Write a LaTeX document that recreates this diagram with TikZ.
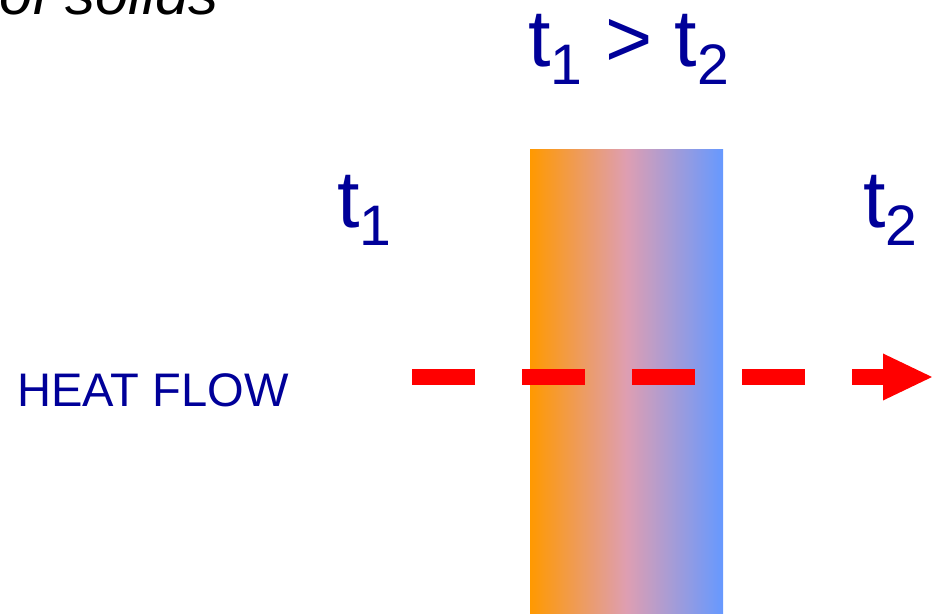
\documentclass[tikz,border=0pt]{standalone}
\usepackage{fontspec}
\setmainfont{Liberation Sans}
\usetikzlibrary{arrows.meta}
\definecolor{labelblue}{RGB}{0,0,153}
\definecolor{hotside}{RGB}{255,153,0}
\definecolor{midtone}{RGB}{222,158,178}
\definecolor{coldside}{RGB}{102,153,255}
\definecolor{flowred}{RGB}{255,0,0}
\newcommand{\tsub}[1]{t\raisebox{-10.2pt}{\fontsize{32.5}{33}\selectfont #1}}
\tikzset{
  templabel/.style={font=\fontsize{46}{46}\selectfont, text=labelblue, inner sep=0pt, anchor=base west},
  flowlabel/.style={font=\fontsize{26.8}{28}\selectfont, text=labelblue, inner sep=0pt, anchor=base west},
  titletail/.style={font=\fontsize{34}{35}\selectfont\itshape, inner sep=0pt, anchor=base east},
  slab/.style={left color=hotside, right color=coldside, middle color=midtone},
  flowarrow/.style={draw=flowred, line width=0.32cm, dash pattern=on 1.26cm off 0.94cm,
    -{Triangle[length=0.98cm, width=0.94cm, line width=0pt]}},
}
\begin{document}
\begin{tikzpicture}
\useasboundingbox (0,0) rectangle (18.640,12.260);
\node[titletail] (tail) at (4.380,11.960) {of solids};
\shade[slab] (10.600,0) rectangle (14.460,9.260);
\node[templabel] (tcompare) at (10.560,10.920) {\tsub{1} > \tsub{2}};
\node[templabel] (thot) at (6.740,7.710) {\tsub{1}};
\node[templabel] (tcold) at (17.260,7.710) {\tsub{2}};
\node[flowlabel] (heat) at (0.340,4.120) {HEAT FLOW};
\coordinate (flowstart) at (8.240,4.720);
\coordinate (flowend) at (18.640,4.720);
\draw[flowarrow] (flowstart) -- (flowend);
\end{tikzpicture}
\end{document}
